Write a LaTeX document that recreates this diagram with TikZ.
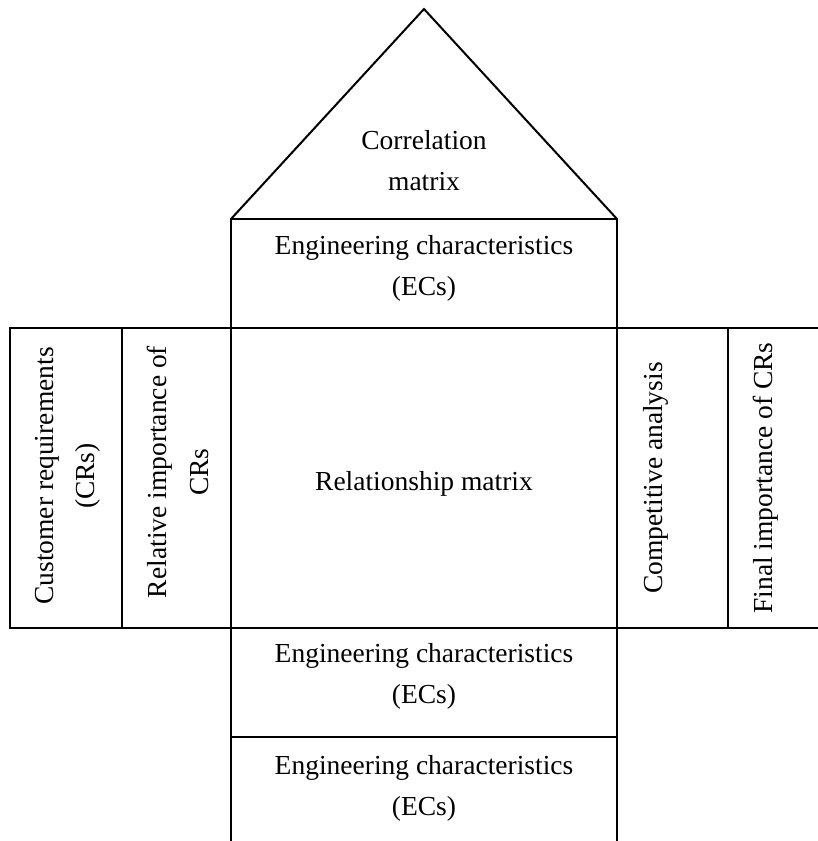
\documentclass[tikz,border=0pt]{standalone}
\usepackage{fontspec}
\setmainfont{Liberation Serif}
\usetikzlibrary{positioning}

\tikzset{
  part/.style={draw, line width=2pt, outer sep=0pt, inner sep=0pt},
  caption/.style={font=\fontsize{27.5}{41.5}\selectfont, align=center, inner sep=0pt},
}

\begin{document}
\begin{tikzpicture}[x=1pt, y=-1pt]
    \useasboundingbox (0,0) rectangle (818,841);
    % Boxes
    \node (rel) [part, minimum width=386pt, minimum height=300pt] at (424,478) {};
    \node (ectop) [part, above=0pt of rel, minimum width=386pt, minimum height=109pt] {};
    \node (imp) [part, left=0pt of rel, minimum width=109pt, minimum height=300pt] {};
    \node (cr) [part, left=0pt of imp, minimum width=112pt, minimum height=300pt] {};
    \node (comp) [part, right=0pt of rel, minimum width=111pt, minimum height=300pt] {};
    \node (fin) [part, right=0pt of comp, minimum width=94pt, minimum height=300pt] {};
    \node (ecmid) [part, below=0pt of rel, minimum width=386pt, minimum height=109pt] {};
    \node (eclow) [part, below=0pt of ecmid, minimum width=386pt, minimum height=112pt] {};
    % Roof
    \coordinate (apex) at (424,9);
    \draw[line width=2pt] (ectop.north west) -- (apex) -- (ectop.north east);
    % Texts
    \node (corrtext) [caption, anchor=north] at (424,130) {Correlation\\matrix};
    \node (ectoptext) [caption, below=16pt of ectop.north] {Engineering characteristics\\(ECs)};
    \node (reltext) [caption, yshift=-6pt] at (rel) {Relationship matrix};
    \node (crtext) [caption, rotate=90, anchor=north] at ([xshift=25pt, yshift=2pt]cr.west) {Customer requirements\\(CRs)};
    \node (imptext) [caption, rotate=90, anchor=north] at ([xshift=25pt, yshift=6pt]imp.west) {Relative importance of\\CRs};
    \node (comptext) [caption, rotate=90, anchor=north] at ([xshift=26pt]comp.west) {Competitive analysis};
    \node (fintext) [caption, rotate=90, anchor=north] at ([xshift=25pt]fin.west) {Final importance of CRs};
    \node (ecmidtext) [caption, below=15pt of ecmid.north] {Engineering characteristics\\(ECs)};
    \node (eclowtext) [caption, below=18pt of eclow.north] {Engineering characteristics\\(ECs)};
\end{tikzpicture}
\end{document}
